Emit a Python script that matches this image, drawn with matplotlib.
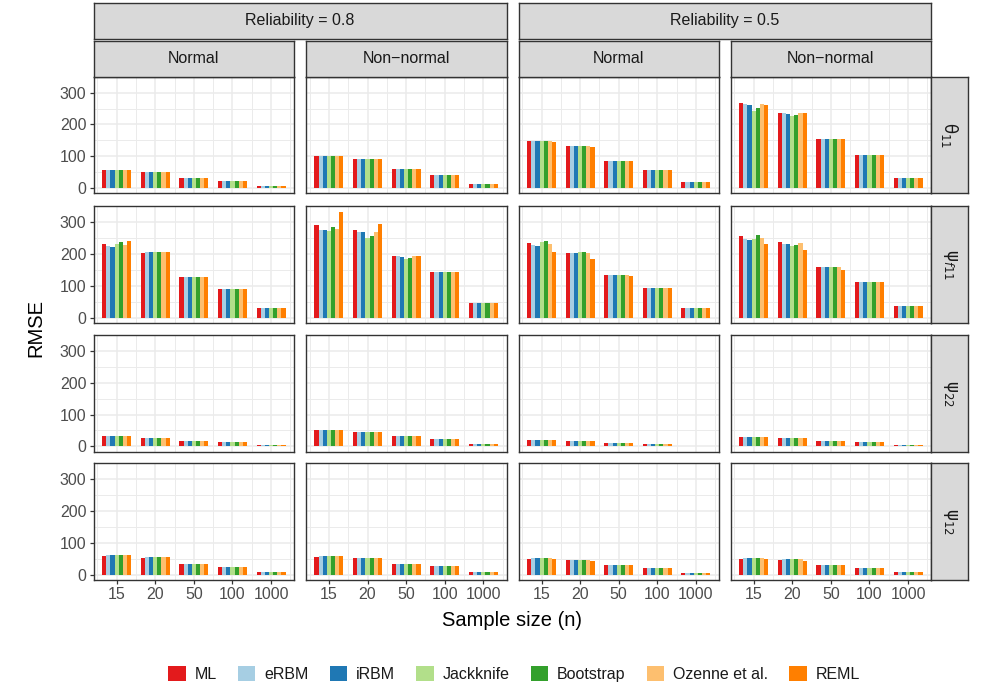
import matplotlib
matplotlib.use("Agg")
import matplotlib.pyplot as plt
from matplotlib.patches import Patch
import numpy as np

plt.rcParams['font.family'] = ['Liberation Sans', 'DejaVu Sans']
plt.rcParams['mathtext.fontset'] = 'dejavusans'

# ---------------- data ----------------
methods = ["ML", "eRBM", "iRBM", "Jackknife", "Bootstrap", "Ozenne et al.", "REML"]
colors = ["#E31A1C", "#A6CEE3", "#1F78B4", "#B2DF8A", "#33A02C", "#FDBF6F", "#FF7F00"]
sample_sizes = ["15", "20", "50", "100", "1000"]
reliabilities = ["Reliability = 0.8", "Reliability = 0.5"]
distributions = ["Normal", "Non\u2212normal"]
parameters = [r"$\mathrm{\theta}_{11}$", r"$\mathrm{\psi}_{f11}$",
              r"$\mathrm{\psi}_{22}$", r"$\mathrm{\psi}_{12}$"]

# each panel: rows = methods (ML, eRBM, iRBM, Jackknife, Bootstrap, Ozenne, REML)
# columns = sample sizes (15, 20, 50, 100, 1000)
theta11_r08_normal = [[57, 51, 32, 23, 7]] * 7
theta11_r08_nonnormal = [[102, 92, 59, 42, 13.5]] * 7
theta11_r05_normal = [
    [148, 132, 84, 58, 18],
    [147, 132, 84, 58, 18],
    [147, 132, 84, 58, 18],
    [147, 132, 84, 58, 18],
    [148, 132, 84, 58, 18],
    [147, 131, 84, 58, 18],
    [145, 130, 84, 58, 18],
]
theta11_r05_nonnormal = [
    [266, 237, 153, 105, 33],
    [265, 236, 153, 105, 33],
    [260, 233, 153, 105, 33],
    [243, 228, 153, 105, 33],
    [253, 229, 153, 105, 33],
    [265, 237, 153, 105, 33],
    [261, 235, 153, 105, 33],
]
psi11_r08_normal = [
    [231, 204, 129, 91, 30],
    [224, 205, 129, 91, 30],
    [223, 205, 129, 91, 30],
    [231, 206, 129, 91, 30],
    [239, 206, 129, 91, 30],
    [227, 206, 129, 91, 30],
    [241, 206, 129, 91, 30],
]
psi11_r08_nonnormal = [
    [291, 275, 193, 145, 47],
    [276, 269, 193, 145, 47],
    [276, 268, 192, 145, 47],
    [273, 249, 183, 145, 47],
    [285, 256, 186, 145, 47],
    [278, 270, 193, 145, 47],
    [332, 295, 194, 145, 47],
]
psi11_r05_normal = [
    [234, 203, 133, 94, 31],
    [227, 203, 133, 94, 31],
    [225, 203, 133, 94, 31],
    [236, 205, 133, 94, 31],
    [242, 205, 133, 94, 31],
    [230, 204, 133, 94, 31],
    [205, 183, 131, 94, 31],
]
psi11_r05_nonnormal = [
    [257, 238, 158, 113, 38],
    [246, 232, 158, 113, 38],
    [243, 230, 158, 113, 38],
    [247, 226, 158, 113, 38],
    [258, 229, 158, 113, 38],
    [250, 235, 158, 113, 38],
    [230, 214, 150, 113, 38],
]
psi22_r08_normal = [[32, 28, 18, 12.5, 3]] * 7
psi22_r08_nonnormal = [[52, 46, 32, 23, 7]] * 7
psi22_r05_normal = [[20, 17, 10.5, 7, 1.5]] * 7
psi22_r05_nonnormal = [[29, 26, 18, 12.5, 4]] * 7
psi12_r08_normal = [
    [60, 54, 35, 25, 7],
    [63, 57, 35, 25, 7],
    [63, 57, 35, 25, 7],
    [63, 57, 35, 25, 7],
    [63, 57, 35, 25, 7],
    [63, 57, 35, 25, 7],
    [63, 57, 35, 25, 7],
]
psi12_r08_nonnormal = [
    [57, 51, 35, 26, 8],
    [60, 53, 35, 26, 8],
    [59, 53, 35, 26, 8],
    [59, 53, 35, 26, 8],
    [59, 53, 35, 26, 8],
    [59, 53, 35, 26, 8],
    [59, 53, 35, 26, 8],
]
psi12_r05_normal = [
    [50, 45, 29, 21, 6],
    [52, 46, 29, 21, 6],
    [52, 46, 29, 21, 6],
    [53, 46, 29, 21, 6],
    [53, 46, 29, 21, 6],
    [53, 46, 29, 21, 6],
    [49, 44, 29, 21, 6],
]
psi12_r05_nonnormal = [
    [50, 45, 30, 22, 7],
    [52, 48, 30, 22, 7],
    [52, 48, 31, 22, 7],
    [52, 48, 31, 22, 7],
    [52, 48, 30, 22, 7],
    [52, 48, 30, 22, 7],
    [49, 44, 30, 22, 7],
]

panels = [
    [theta11_r08_normal, theta11_r08_nonnormal, theta11_r05_normal, theta11_r05_nonnormal],
    [psi11_r08_normal, psi11_r08_nonnormal, psi11_r05_normal, psi11_r05_nonnormal],
    [psi22_r08_normal, psi22_r08_nonnormal, psi22_r05_normal, psi22_r05_nonnormal],
    [psi12_r08_normal, psi12_r08_nonnormal, psi12_r05_normal, psi12_r05_nonnormal],
]

# ---------------- layout ----------------
W, H = 997, 696
fig = plt.figure(figsize=(W / 100, H / 100), dpi=100)
fig.patch.set_facecolor("white")


def box(x0, y0, x1, y1):
    return [x0 / W, 1 - y1 / H, (x1 - x0) / W, (y1 - y0) / H]


col_x = [(93.5, 294.2), (305.8, 506.5), (518.5, 718.9), (730.5, 931.2)]
row_y = [(76.7, 193.3), (206.0, 323.3), (335.0, 451.7), (463.3, 580.0)]

BORDER = "#333333"
STRIP = "#D9D9D9"
GRID = "#EBEBEB"
TXT = "#1A1A1A"
TICKTXT = "#4D4D4D"
FS = 11.5

ymax = max(max(max(r) for r in p) for row in panels for p in row)
ylo, yhi = -0.05 * ymax, 1.05 * ymax
x = np.arange(1, len(sample_sizes) + 1)
group_w = 0.75
bw = group_w / len(methods)

for r in range(4):
    for c in range(4):
        ax = fig.add_axes(box(col_x[c][0], row_y[r][0], col_x[c][1], row_y[r][1]))
        data = panels[r][c]
        for j, (vals, col) in enumerate(zip(data, colors)):
            off = (j - (len(methods) - 1) / 2) * bw
            ax.bar(x + off, vals, width=bw, color=col, linewidth=0, zorder=2)
        ax.set_xlim(0.4, 5.6)
        ax.set_ylim(ylo, yhi)
        ax.set_xticks(x)
        ax.set_xticks(np.arange(0.5, 5.6, 1.0), minor=True)
        ax.set_yticks([0, 100, 200, 300])
        ax.set_yticks([50, 150, 250, 350], minor=True)
        ax.grid(which="major", color=GRID, linewidth=1.15, zorder=0)
        ax.grid(which="minor", color=GRID, linewidth=0.7, zorder=0)
        ax.set_axisbelow(True)
        ax.tick_params(which="minor", length=0)
        for s in ax.spines.values():
            s.set_color(BORDER)
            s.set_linewidth(1.0)
            s.set_zorder(5)
        if c == 0:
            ax.set_yticklabels(["0", "100", "200", "300"])
            ax.tick_params(axis="y", which="major", length=3.2, width=0.9,
                           color=BORDER, labelcolor=TICKTXT, labelsize=FS, pad=2)
        else:
            ax.set_yticklabels([])
            ax.tick_params(axis="y", which="major", length=0)
        if r == 3:
            ax.set_xticklabels(sample_sizes)
            ax.tick_params(axis="x", which="major", length=3.2, width=0.9,
                           color=BORDER, labelcolor=TICKTXT, labelsize=FS, pad=2)
        else:
            ax.set_xticklabels([])
            ax.tick_params(axis="x", which="major", length=0)


def strip(x0, y0, x1, y1, label, rot=0, fs=FS):
    sa = fig.add_axes(box(x0, y0, x1, y1))
    sa.set_facecolor(STRIP)
    sa.set_xticks([])
    sa.set_yticks([])
    for s in sa.spines.values():
        s.set_color(BORDER)
        s.set_linewidth(1.0)
    sa.text(0.5, 0.5, label, transform=sa.transAxes, ha="center", va="center",
            fontsize=fs, color=TXT, rotation=rot)


# top strips
strip(col_x[0][0], 2.5, col_x[1][1], 38.5, reliabilities[0])
strip(col_x[2][0], 2.5, col_x[3][1], 38.5, reliabilities[1])
for c in range(4):
    strip(col_x[c][0], 40.5, col_x[c][1], row_y[0][0], distributions[c % 2])
# right strips
for r in range(4):
    strip(col_x[3][1], row_y[r][0], 968.3, row_y[r][1], parameters[r], rot=-90, fs=12)

# axis titles
fig.text(36 / W, 1 - ((row_y[0][0] + row_y[3][1]) / 2) / H, "RMSE", rotation=90,
         ha="center", va="center", fontsize=14.5, color="black")
fig.text(((col_x[0][0] + col_x[3][1]) / 2) / W, 1 - 620 / H, "Sample size (n)",
         ha="center", va="center", fontsize=14.5, color="black")

# legend
handles = [Patch(facecolor=cc, edgecolor="none") for cc in colors]
fig.legend(handles, methods, loc="center", bbox_to_anchor=(514 / W, 1 - 674 / H),
           ncol=7, frameon=False, fontsize=FS, handlelength=1.1, handleheight=1.1,
           handletextpad=0.55, columnspacing=1.32, borderpad=0, labelcolor=TXT)

fig.savefig("out.png", dpi=100, facecolor="white")
